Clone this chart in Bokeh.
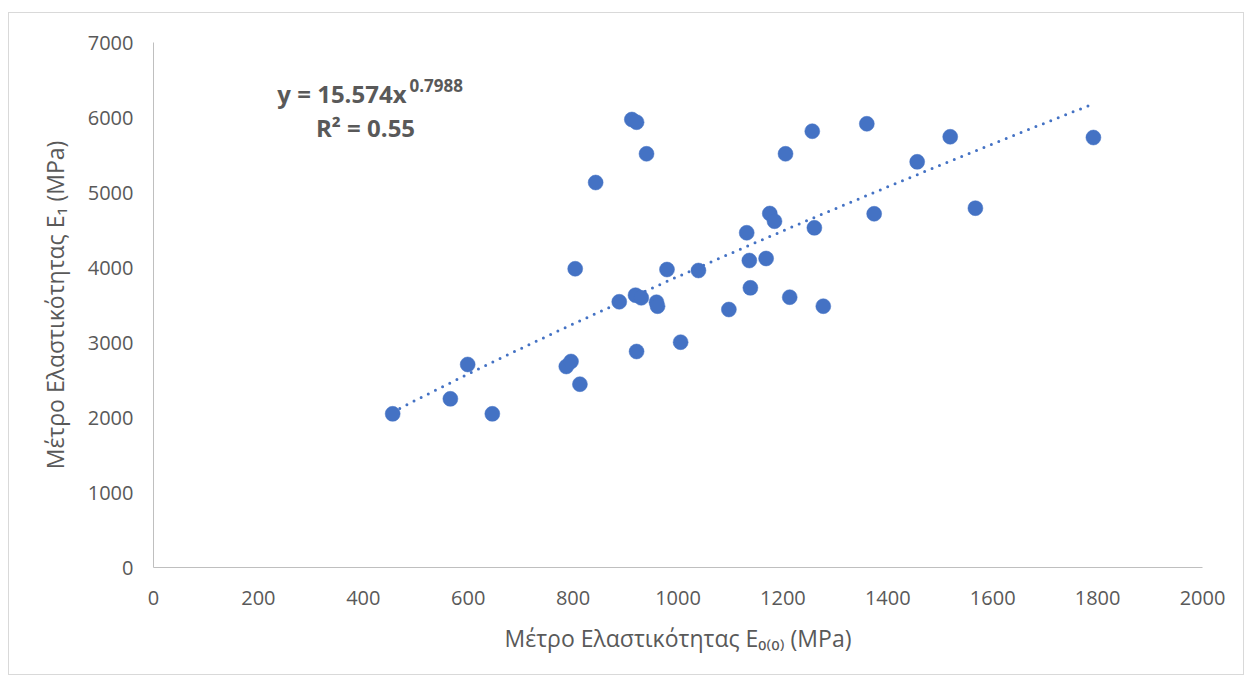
import numpy as np
from bokeh.plotting import figure
from bokeh.models import Label, Range1d, FixedTicker
from bokeh.embed import file_html
from bokeh.resources import INLINE

# ---- data ----
e0_values = [456, 566, 599, 646, 787, 796, 813, 804, 888, 921, 919, 930, 959, 961,
             979, 1005, 1039, 1097, 1131, 1136, 1138, 1168, 1175, 1184, 1205, 1213,
             1256, 1260, 1277, 1360, 1374, 1456, 1519, 1567, 1792, 912, 921, 940, 843]
e1_values = [2049, 2249, 2707, 2049, 2680, 2747, 2444, 3983, 3543, 2880, 3631, 3596,
             3537, 3484, 3973, 3004, 3960, 3440, 4463, 4093, 3729, 4120, 4720, 4617,
             5516, 3604, 5817, 4529, 3484, 5916, 4716, 5409, 5743, 4791, 5733, 5973,
             5937, 5516, 5133]
x_ticks = [0, 200, 400, 600, 800, 1000, 1200, 1400, 1600, 1800, 2000]
y_ticks = [0, 1000, 2000, 3000, 4000, 5000, 6000, 7000]
trend_coef = 15.574
trend_exp = 0.7988
r_squared = "0.55"

x_title = "Μέτρο Ελαστικότητας E\u2080\u208d\u2080\u208e (MPa)"
y_title = "Μέτρο Ελαστικότητας E\u2081 (MPa)"

# trendline from the displayed power-law equation, over the data's x range
tx = np.linspace(min(e0_values), max(e0_values), 200)
ty = trend_coef * tx ** trend_exp

TEXT = "#595959"
BLUE = "#4472C4"
FONT = "Open Sans"

p = figure(width=1236, height=663, x_range=Range1d(0, 2000), y_range=Range1d(0, 7000),
           output_backend="svg", toolbar_location=None,
           min_border_left=144, min_border_right=43, min_border_top=29, min_border_bottom=109)
p.styles = {"border": "1px solid #D9D9D9", "margin-top": "12px", "margin-left": "8px"}
p.grid.visible = False
p.outline_line_color = None
p.background_fill_color = "white"
p.border_fill_color = "white"

p.xaxis.ticker = FixedTicker(ticks=x_ticks)
p.yaxis.ticker = FixedTicker(ticks=y_ticks)
p.xaxis.axis_label = x_title
p.yaxis.axis_label = y_title
for ax in (p.xaxis, p.yaxis):
    ax.axis_line_color = "#BFBFBF"
    ax.axis_line_width = 1
    ax.major_tick_line_color = None
    ax.minor_tick_line_color = None
    ax.major_tick_out = 0
    ax.major_tick_in = 0
    ax.major_label_text_font = FONT
    ax.major_label_text_font_size = "20px"
    ax.major_label_text_color = TEXT
    ax.axis_label_text_font = FONT
    ax.axis_label_text_font_size = "23px"
    ax.axis_label_text_font_style = "normal"
    ax.axis_label_text_color = TEXT
p.xaxis.major_label_standoff = 23
p.yaxis.major_label_standoff = 20
p.xaxis.axis_label_standoff = 14
p.yaxis.axis_label_standoff = 14

p.line(tx, ty, line_color=BLUE, line_width=3, line_dash="0 8", line_cap="round")
p.scatter(e0_values, e1_values, size=15, fill_color=BLUE, line_color=BLUE, line_width=0.5)

def px_x(px):
    return (px - 153.0) / 1049.0 * 2000.0

def px_y(py):
    return (567.0 - py) / 525.0 * 7000.0

def lab(x, y, text, size, align="left", bold=False):
    p.add_layout(Label(x=x, y=y, text=text, text_font=FONT, text_font_size=size,
                       text_font_style="bold" if bold else "normal", text_color=TEXT,
                       text_align=align, text_baseline="alphabetic"))

# trendline equation
lab(px_x(406), px_y(93), "y = %.3fx" % trend_coef, "24px", "right", True)
lab(px_x(409), px_y(85), "%.4f" % trend_exp, "17px", "left", True)
lab(px_x(365), px_y(127), "R² = " + r_squared, "24px", "center", True)

open("out.html", "w").write(file_html(p, INLINE))
